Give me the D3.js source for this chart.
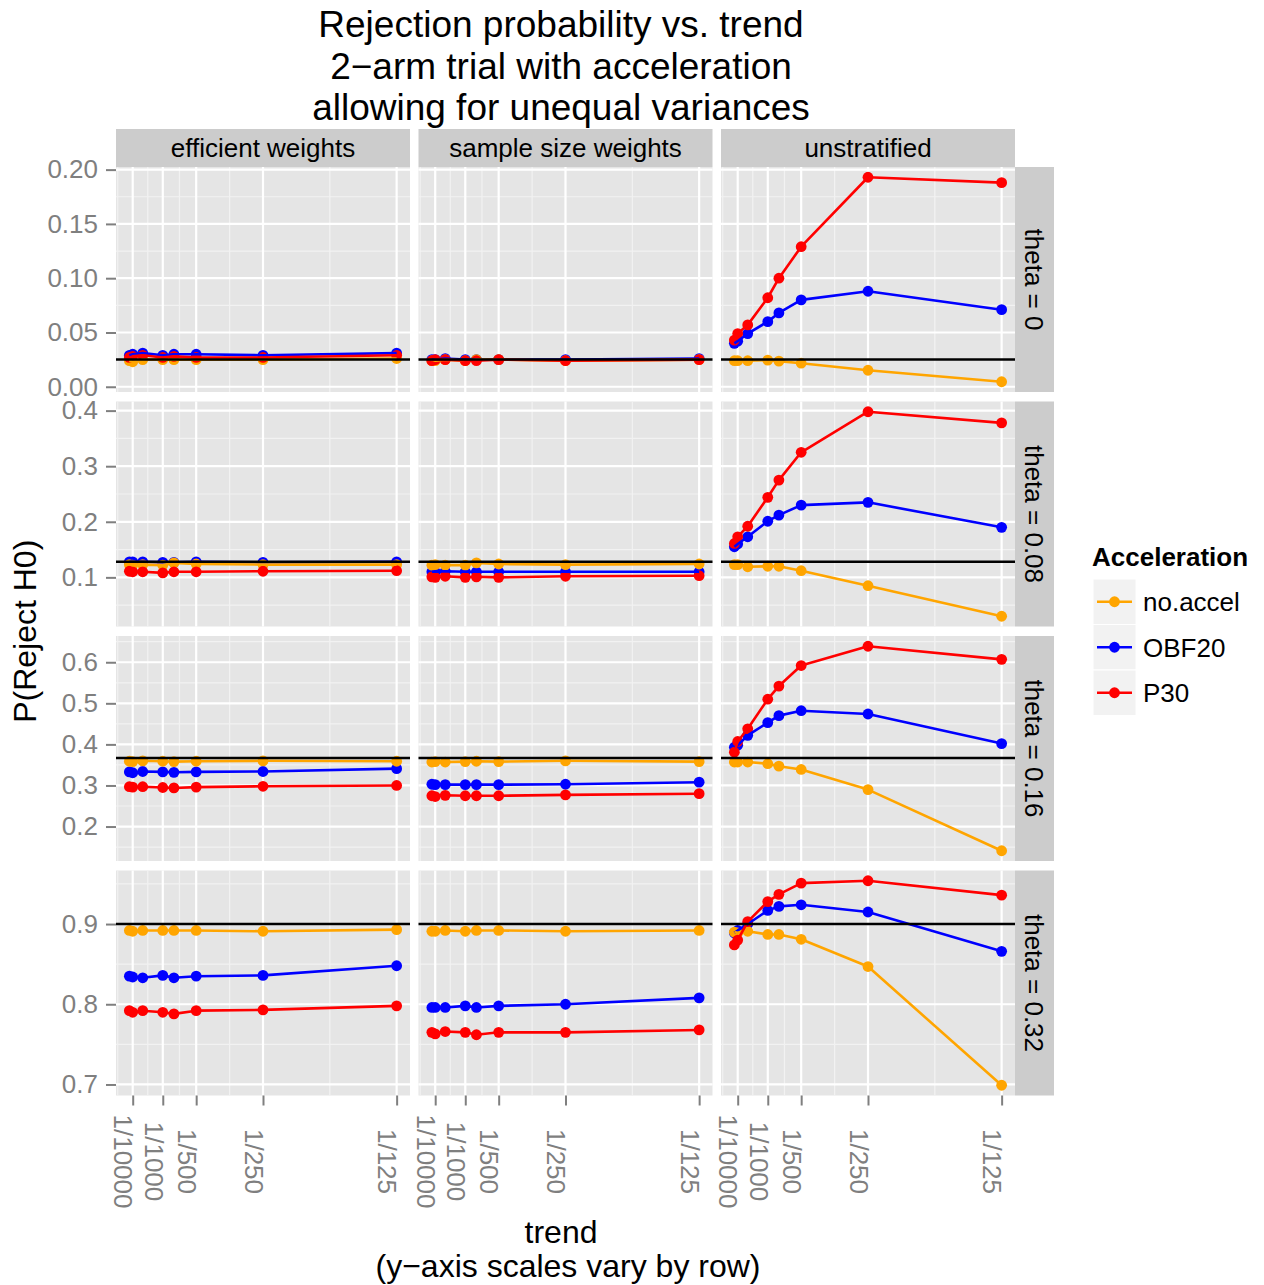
<!DOCTYPE html>
<html>
<head>
<meta charset="utf-8">
<script src="https://cdn.jsdelivr.net/npm/d3@7"></script>
<style>
  body { margin: 0; background: #fff; }
  svg { display: block; }
  text { font-family: "Liberation Sans", Arial, Helvetica, sans-serif; }
</style>
</head>
<body>
<svg id="chart" width="1264" height="1285"></svg>
<script>
// ---- data -------------------------------------------------------------
const trend = [0, 1/10000, 1/2500, 1/1000, 1/750, 1/500, 1/250, 1/125];
const xTickValues = [1/10000, 1/1000, 1/500, 1/250, 1/125];
const xTickLabels = ["1/10000", "1/1000", "1/500", "1/250", "1/125"];

const methods = ["efficient weights", "sample size weights", "unstratified"];
const thetas = ["theta = 0", "theta = 0.08", "theta = 0.16", "theta = 0.32"];
const accelerations = ["no.accel", "OBF20", "P30"];
const accelColors = ["orange", "blue", "red"];

// nominal rejection level drawn as a reference line in each row
const referenceLevel = [0.025, 0.128, 0.367, 0.9];

const yTicksRow1 = [0, 0.05, 0.10, 0.15, 0.20];
const yTicksRow2 = [0.1, 0.2, 0.3, 0.4];
const yTicksRow3 = [0.2, 0.3, 0.4, 0.5, 0.6];
const yTicksRow4 = [0.7, 0.8, 0.9];

// theta = 0
const t0EffNoAccel = [0.024, 0.023, 0.025, 0.025, 0.025, 0.025, 0.025, 0.026];
const t0EffOBF20   = [0.029, 0.030, 0.031, 0.029, 0.030, 0.030, 0.029, 0.031];
const t0EffP30     = [0.027, 0.028, 0.029, 0.027, 0.028, 0.027, 0.027, 0.029];
const t0SsNoAccel  = [0.024, 0.024, 0.025, 0.024, 0.025, 0.025, 0.024, 0.025];
const t0SsOBF20    = [0.025, 0.025, 0.026, 0.025, 0.025, 0.025, 0.025, 0.026];
const t0SsP30      = [0.024, 0.025, 0.025, 0.024, 0.024, 0.025, 0.024, 0.025];
const t0UnNoAccel  = [0.024, 0.024, 0.024, 0.0245, 0.0236, 0.0217, 0.0152, 0.0046];
const t0UnOBF20    = [0.040, 0.042, 0.049, 0.060, 0.068, 0.080, 0.088, 0.071];
const t0UnP30      = [0.043, 0.049, 0.057, 0.082, 0.100, 0.129, 0.193, 0.188];

// theta = 0.08
const t1EffNoAccel = [0.123, 0.122, 0.123, 0.122, 0.126, 0.124, 0.123, 0.123];
const t1EffOBF20   = [0.128, 0.128, 0.128, 0.127, 0.127, 0.128, 0.127, 0.128];
const t1EffP30     = [0.111, 0.110, 0.110, 0.108, 0.110, 0.110, 0.111, 0.112];
const t1SsNoAccel  = [0.122, 0.123, 0.122, 0.122, 0.126, 0.124, 0.123, 0.124];
const t1SsOBF20    = [0.110, 0.110, 0.111, 0.110, 0.110, 0.110, 0.110, 0.110];
const t1SsP30      = [0.101, 0.100, 0.102, 0.100, 0.101, 0.100, 0.102, 0.103];
const t1UnNoAccel  = [0.123, 0.123, 0.119, 0.120, 0.120, 0.112, 0.085, 0.030];
const t1UnOBF20    = [0.155, 0.160, 0.173, 0.201, 0.212, 0.230, 0.235, 0.190];
const t1UnP30      = [0.161, 0.173, 0.192, 0.244, 0.275, 0.325, 0.398, 0.378];

// theta = 0.16
const t2EffNoAccel = [0.359, 0.358, 0.360, 0.359, 0.358, 0.359, 0.360, 0.359];
const t2EffOBF20   = [0.333, 0.331, 0.334, 0.333, 0.332, 0.333, 0.334, 0.341];
const t2EffP30     = [0.297, 0.296, 0.297, 0.295, 0.294, 0.296, 0.298, 0.300];
const t2SsNoAccel  = [0.357, 0.358, 0.357, 0.358, 0.359, 0.358, 0.360, 0.358];
const t2SsOBF20    = [0.303, 0.302, 0.302, 0.302, 0.302, 0.302, 0.303, 0.308];
const t2SsP30      = [0.275, 0.273, 0.276, 0.275, 0.275, 0.275, 0.277, 0.280];
const t2UnNoAccel  = [0.357, 0.357, 0.357, 0.353, 0.347, 0.339, 0.290, 0.141];
const t2UnOBF20    = [0.393, 0.398, 0.422, 0.453, 0.470, 0.482, 0.474, 0.402];
const t2UnP30      = [0.381, 0.407, 0.438, 0.510, 0.542, 0.592, 0.639, 0.607];

// theta = 0.32
const t3EffNoAccel = [0.892, 0.891, 0.892, 0.892, 0.892, 0.892, 0.891, 0.893];
const t3EffOBF20   = [0.835, 0.834, 0.833, 0.836, 0.833, 0.835, 0.836, 0.848];
const t3EffP30     = [0.792, 0.790, 0.792, 0.790, 0.788, 0.792, 0.793, 0.798];
const t3SsNoAccel  = [0.891, 0.891, 0.892, 0.891, 0.892, 0.892, 0.891, 0.892];
const t3SsOBF20    = [0.796, 0.796, 0.796, 0.798, 0.796, 0.798, 0.800, 0.808];
const t3SsP30      = [0.765, 0.763, 0.766, 0.765, 0.762, 0.765, 0.765, 0.768];
const t3UnNoAccel  = [0.890, 0.889, 0.891, 0.887, 0.887, 0.881, 0.847, 0.699];
const t3UnOBF20    = [0.889, 0.892, 0.900, 0.917, 0.922, 0.924, 0.915, 0.866];
const t3UnP30      = [0.874, 0.880, 0.903, 0.928, 0.937, 0.951, 0.954, 0.936];

// grid of series: [row][column] -> [no.accel, OBF20, P30]
const panelSeries = [
  [[t0EffNoAccel, t0EffOBF20, t0EffP30], [t0SsNoAccel, t0SsOBF20, t0SsP30], [t0UnNoAccel, t0UnOBF20, t0UnP30]],
  [[t1EffNoAccel, t1EffOBF20, t1EffP30], [t1SsNoAccel, t1SsOBF20, t1SsP30], [t1UnNoAccel, t1UnOBF20, t1UnP30]],
  [[t2EffNoAccel, t2EffOBF20, t2EffP30], [t2SsNoAccel, t2SsOBF20, t2SsP30], [t2UnNoAccel, t2UnOBF20, t2UnP30]],
  [[t3EffNoAccel, t3EffOBF20, t3EffP30], [t3SsNoAccel, t3SsOBF20, t3SsP30], [t3UnNoAccel, t3UnOBF20, t3UnP30]]
];
const rowTicks = [yTicksRow1, yTicksRow2, yTicksRow3, yTicksRow4];
const rowTickFormat = [d3.format(".2f"), d3.format(".1f"), d3.format(".1f"), d3.format(".1f")];

// ---- layout -----------------------------------------------------------
const W = 1264, H = 1285;
const panelW = 294, panelH = 225;
const left0 = 116, colStep = 302.5;
const top0 = 167, rowStep = 234.5;
const stripTop = 129, stripH = 38;
const stripRightW = 39;
const grey50 = "#7f7f7f";
const fontSize = 26;
const pointR = 5.4;
const lineW = 2.6;
// points are layered OBF20, no.accel, P30
const drawOrder = [1, 0, 2];

const svg = d3.select("#chart");
svg.append("rect").attr("width", W).attr("height", H).attr("fill", "#fff");

function expand([a, b]) {
  const d = (b - a) * 0.05;
  return [a - d, b + d];
}
function minorBreaks(major, domain) {
  const b = major.slice();
  const bd = b[1] - b[0];
  if (domain[0] < b[0]) b.unshift(b[0] - bd);
  if (domain[1] > b[b.length - 1]) b.push(b[b.length - 1] + bd);
  const m = [];
  for (let i = 0; i < b.length - 1; i++) m.push((b[i] + b[i + 1]) / 2);
  return m.filter(v => v >= domain[0] && v <= domain[1]);
}

const xDomain = expand(d3.extent(trend));
const x = d3.scaleLinear().domain(xDomain).range([0, panelW]);
const xMinor = minorBreaks(xTickValues, xDomain);

// ---- title ------------------------------------------------------------
const titleLines = ["Rejection probability vs. trend", "2\u2212arm trial with acceleration", "allowing for unequal variances"];
const titleCenterX = 561;
svg.append("g").selectAll("text").data(titleLines).join("text")
  .attr("x", titleCenterX)
  .attr("y", (d, i) => 37 + i * 41.5)
  .attr("text-anchor", "middle")
  .attr("font-size", 37)
  .attr("fill", "#000")
  .text(d => d);

// ---- column strips ----------------------------------------------------
methods.forEach((m, c) => {
  const gx = left0 + c * colStep;
  svg.append("rect").attr("x", gx).attr("y", stripTop).attr("width", panelW).attr("height", stripH).attr("fill", "#cccccc");
  svg.append("text").attr("x", gx + panelW / 2).attr("y", stripTop + stripH / 2).attr("dy", "0.36em")
    .attr("text-anchor", "middle").attr("font-size", fontSize).attr("fill", "#000").text(m);
});

// ---- panels -----------------------------------------------------------
const line = d3.line();

panelSeries.forEach((rowData, r) => {
  const gy = top0 + r * rowStep;
  const rowValues = rowData.flat(2).concat([referenceLevel[r]]);
  const yDomain = expand(d3.extent(rowValues));
  const y = d3.scaleLinear().domain(yDomain).range([panelH, 0]);
  const yMajor = rowTicks[r].filter(v => v >= yDomain[0] && v <= yDomain[1]);
  const yMinor = minorBreaks(rowTicks[r], yDomain);

  rowData.forEach((series, c) => {
    const gx = left0 + c * colStep;
    const g = svg.append("g").attr("transform", `translate(${gx},${gy})`);
    g.append("rect").attr("width", panelW).attr("height", panelH).attr("fill", "#e5e5e5");

    g.selectAll("line.ymin").data(yMinor).join("line").attr("class", "ymin")
      .attr("x1", 0).attr("x2", panelW).attr("y1", d => y(d)).attr("y2", d => y(d))
      .attr("stroke", "#f2f2f2").attr("stroke-width", 1.2);
    g.selectAll("line.xmin").data(xMinor).join("line").attr("class", "xmin")
      .attr("y1", 0).attr("y2", panelH).attr("x1", d => x(d)).attr("x2", d => x(d))
      .attr("stroke", "#f2f2f2").attr("stroke-width", 1.2);
    g.selectAll("line.ymaj").data(yMajor).join("line").attr("class", "ymaj")
      .attr("x1", 0).attr("x2", panelW).attr("y1", d => y(d)).attr("y2", d => y(d))
      .attr("stroke", "#fff").attr("stroke-width", 2.2);
    g.selectAll("line.xmaj").data(xTickValues).join("line").attr("class", "xmaj")
      .attr("y1", 0).attr("y2", panelH).attr("x1", d => x(d)).attr("x2", d => x(d))
      .attr("stroke", "#fff").attr("stroke-width", 2.2);

    drawOrder.forEach(k => {
      const vals = series[k];
      g.append("g").selectAll("circle").data(vals).join("circle")
        .attr("cx", (d, i) => x(trend[i])).attr("cy", d => y(d))
        .attr("r", pointR).attr("fill", accelColors[k]);
    });
    drawOrder.forEach(k => {
      const vals = series[k];
      g.append("path")
        .attr("d", line(vals.map((v, i) => [x(trend[i]), y(v)])))
        .attr("fill", "none").attr("stroke", accelColors[k]).attr("stroke-width", lineW)
        .attr("stroke-linejoin", "round");
    });

    g.append("line").attr("x1", 0).attr("x2", panelW)
      .attr("y1", y(referenceLevel[r])).attr("y2", y(referenceLevel[r]))
      .attr("stroke", "#000").attr("stroke-width", 2.5);
  });

  // row strip on the right
  const sx = left0 + 2 * colStep + panelW;
  svg.append("rect").attr("x", sx).attr("y", gy).attr("width", stripRightW).attr("height", panelH).attr("fill", "#cccccc");
  svg.append("text")
    .attr("transform", `translate(${sx + stripRightW / 2},${gy + panelH / 2}) rotate(90)`)
    .attr("dy", "0.36em").attr("text-anchor", "middle")
    .attr("font-size", fontSize).attr("fill", "#000").text(thetas[r]);

  // y axis for this row
  const yAxis = d3.axisLeft(y).tickValues(yMajor).tickFormat(rowTickFormat[r])
    .tickSize(10).tickPadding(8);
  const ga = svg.append("g").attr("transform", `translate(${left0},${gy})`).call(yAxis);
  ga.select(".domain").remove();
  ga.selectAll(".tick line").attr("stroke", grey50).attr("stroke-width", 2);
  ga.selectAll(".tick text").attr("fill", grey50).attr("font-size", fontSize)
    .attr("font-family", "'Liberation Sans', Arial, Helvetica, sans-serif");
});

// ---- x axes -----------------------------------------------------------
const axisY = top0 + 3 * rowStep + panelH;
methods.forEach((m, c) => {
  const gx = left0 + c * colStep;
  const xAxis = d3.axisBottom(x).tickValues(xTickValues)
    .tickFormat((d, i) => xTickLabels[i]).tickSize(10).tickPadding(0);
  const ga = svg.append("g").attr("transform", `translate(${gx},${axisY})`).call(xAxis);
  ga.select(".domain").remove();
  ga.selectAll(".tick line").attr("stroke", grey50).attr("stroke-width", 2);
  ga.selectAll(".tick text")
    .attr("fill", grey50).attr("font-size", fontSize)
    .attr("font-family", "'Liberation Sans', Arial, Helvetica, sans-serif")
    .attr("text-anchor", "middle")
    .attr("y", 0).attr("x", 0).attr("dy", "0.72em")
    .attr("transform", "translate(0,66) rotate(90)");
});

// ---- axis titles ------------------------------------------------------
svg.append("text").attr("x", 561).attr("y", 1243)
  .attr("text-anchor", "middle").attr("font-size", 32).attr("fill", "#000").text("trend");
svg.append("text").attr("x", 568).attr("y", 1277)
  .attr("text-anchor", "middle").attr("font-size", 32).attr("fill", "#000").text("(y\u2212axis scales vary by row)");
svg.append("text")
  .attr("transform", `translate(36,${top0 + (3 * rowStep + panelH) / 2}) rotate(-90)`)
  .attr("text-anchor", "middle").attr("font-size", 32).attr("fill", "#000").text("P(Reject H0)");

// ---- legend -----------------------------------------------------------
const lg = svg.append("g").attr("transform", "translate(1092,0)");
lg.append("text").attr("x", 0).attr("y", 566).attr("font-size", fontSize)
  .attr("font-weight", "bold").attr("fill", "#000").text("Acceleration");
accelerations.forEach((a, i) => {
  const ky = 579 + i * 45.5;
  lg.append("rect").attr("x", 1).attr("y", ky).attr("width", 43).attr("height", 45.5)
    .attr("fill", "#f2f2f2").attr("stroke", "#fff").attr("stroke-width", 1);
  lg.append("line").attr("x1", 5).attr("x2", 40).attr("y1", ky + 22.75).attr("y2", ky + 22.75)
    .attr("stroke", accelColors[i]).attr("stroke-width", lineW);
  lg.append("circle").attr("cx", 22.5).attr("cy", ky + 22.75).attr("r", pointR).attr("fill", accelColors[i]);
  lg.append("text").attr("x", 51).attr("y", ky + 22.75).attr("dy", "0.36em")
    .attr("font-size", fontSize).attr("fill", "#000").text(a);
});
</script>
</body>
</html>
